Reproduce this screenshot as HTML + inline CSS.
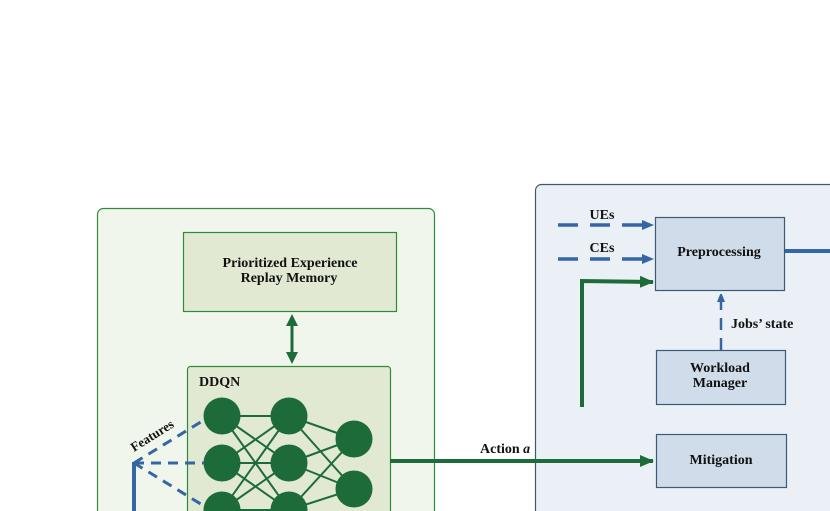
<!DOCTYPE html>
<html><head><meta charset="utf-8"><style>body{margin:0;background:#fff}svg{display:block}text{font-family:"Liberation Serif",serif;font-weight:bold;fill:#111}</style></head><body>
<svg width="830" height="511" viewBox="0 0 830 511" xmlns="http://www.w3.org/2000/svg">
<defs>
<marker id="ag" markerWidth="14" markerHeight="12" refX="13" refY="6" orient="auto" markerUnits="userSpaceOnUse"><path d="M0,0 L14,6 L0,12z" fill="#1e6b3a"/></marker>
<marker id="ab" markerWidth="12" markerHeight="10" refX="11" refY="5" orient="auto" markerUnits="userSpaceOnUse"><path d="M0,0 L12,5 L0,10z" fill="#3465a4"/></marker>
<marker id="ab2" markerWidth="8" markerHeight="10" refX="9" refY="4" orient="auto" markerUnits="userSpaceOnUse"><path d="M0,0 L10,4 L0,8z" fill="#3465a4"/></marker>
</defs>
<rect x="97.5" y="208.5" width="337" height="320" rx="6" fill="#f1f6ec" stroke="#2e8b3a" stroke-width="1.2"/>
<rect x="183.5" y="232.5" width="213" height="79" fill="#e1e9d2" stroke="#2e8b3a" stroke-width="1.2"/>
<text x="290" y="267" font-size="14" text-anchor="middle">Prioritized Experience</text>
<text x="289" y="282" font-size="14" text-anchor="middle">Replay Memory</text>
<rect x="187.5" y="366.5" width="203" height="160" rx="3" fill="#e1e9d2" stroke="#2e8b3a" stroke-width="1.2"/>
<text x="199" y="386" font-size="14">DDQN</text>
<line x1="292" y1="324" x2="292" y2="354" stroke="#1e6b3a" stroke-width="3"/>
<path d="M292,314 L298,326 L286,326z M292,364 L298,352 L286,352z" fill="#1e6b3a"/>
<g stroke="#1e6b3a" stroke-width="2">
<path d="M222,416L289,416M222,416L289,463M222,416L289,510M222,463L289,416M222,463L289,463M222,463L289,510M222,510L289,416M222,510L289,463M222,510L289,510M289,416L354,439M289,416L354,489M289,463L354,439M289,463L354,489M289,510L354,439M289,510L354,489"/>
</g>
<g fill="#1e6b3a">
<circle cx="222" cy="416" r="18.5"/><circle cx="222" cy="463" r="18.5"/><circle cx="222" cy="510" r="18.5"/>
<circle cx="289" cy="416" r="18.5"/><circle cx="289" cy="463" r="18.5"/><circle cx="289" cy="510" r="18.5"/>
<circle cx="354" cy="439" r="18.5"/><circle cx="354" cy="489" r="18.5"/>
</g>
<g stroke="#3465a4" stroke-width="3" stroke-dasharray="10,7" fill="none">
<path d="M134,463L204,420M134,463L204,463M134,463L204,506"/>
</g>
<line x1="134" y1="462" x2="134" y2="511" stroke="#3465a4" stroke-width="4"/>
<text x="0" y="0" font-size="13" transform="translate(134,452) rotate(-32)">Features</text>
<rect x="535.5" y="184.5" width="310" height="340" rx="6" fill="#eaf0f5" stroke="#3d5a75" stroke-width="1.2"/>
<line x1="390" y1="461" x2="653" y2="461" stroke="#1e6b3a" stroke-width="4" marker-end="url(#ag)"/>
<text x="480" y="453" font-size="14">Action <tspan font-style="italic">a</tspan></text>
<rect x="655.5" y="217.5" width="129" height="73" fill="#d0dcea" stroke="#3d5a75" stroke-width="1.2"/>
<text x="719" y="256" font-size="14" text-anchor="middle">Preprocessing</text>
<line x1="785" y1="251" x2="830" y2="251" stroke="#3465a4" stroke-width="4"/>
<line x1="558" y1="225" x2="653" y2="225" stroke="#3465a4" stroke-width="3.5" stroke-dasharray="20,12" marker-end="url(#ab)"/>
<line x1="558" y1="259" x2="653" y2="259" stroke="#3465a4" stroke-width="3.5" stroke-dasharray="20,12" marker-end="url(#ab)"/>
<text x="602" y="219" font-size="14" text-anchor="middle">UEs</text>
<text x="602" y="252" font-size="14" text-anchor="middle">CEs</text>
<polyline points="582,407 582,281 653,282" fill="none" stroke="#1e6b3a" stroke-width="4" marker-end="url(#ag)"/>
<rect x="656.5" y="350.5" width="129" height="54" fill="#d0dcea" stroke="#3d5a75" stroke-width="1.2"/>
<text x="720" y="372" font-size="14" text-anchor="middle">Workload</text>
<text x="720" y="387" font-size="14" text-anchor="middle">Manager</text>
<line x1="721" y1="350" x2="721" y2="293" stroke="#3465a4" stroke-width="2.5" stroke-dasharray="12,8" marker-end="url(#ab2)"/>
<text x="731" y="328" font-size="14">Jobs’ state</text>
<rect x="656.5" y="434.5" width="130" height="53" fill="#d0dcea" stroke="#3d5a75" stroke-width="1.2"/>
<text x="721" y="464" font-size="14" text-anchor="middle">Mitigation</text>
</svg>
</body></html>
